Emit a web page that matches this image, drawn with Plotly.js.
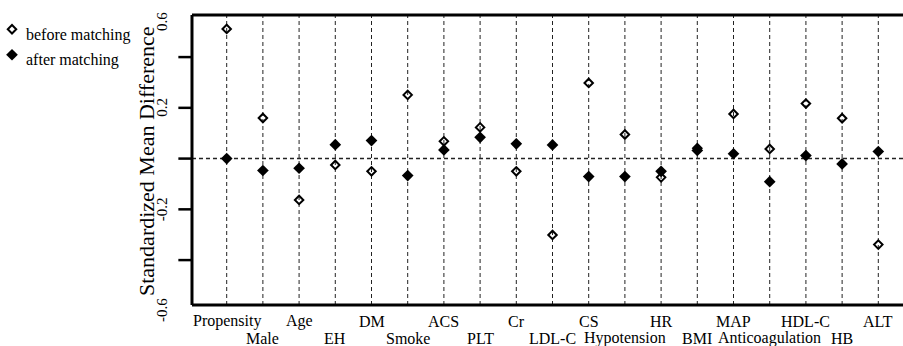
<!DOCTYPE html>
<html>
<head>
<meta charset="utf-8">
<script src="https://cdn.plot.ly/plotly-3.0.1.min.js"></script>
<style>html,body{margin:0;padding:0;background:#fff;}#chart{width:903px;height:346px;}</style>
</head>
<body>
<div id="chart"></div>
<script>
const categories = ['Propensity','Male','Age','EH','DM','Smoke','ACS','PLT','Cr','LDL-C','CS','Hypotension','HR','BMI','MAP','Anticoagulation','HDL-C','HB','ALT'];
const beforeMatching = [0.511,0.160,-0.163,-0.025,-0.050,0.251,0.068,0.123,-0.050,-0.301,0.298,0.095,-0.074,0.041,0.176,0.038,0.217,0.159,-0.339];
const afterMatching = [0.000,-0.047,-0.038,0.055,0.071,-0.067,0.034,0.084,0.058,0.054,-0.071,-0.071,-0.050,0.032,0.019,-0.091,0.012,-0.021,0.028];
const seriesNames = ['before matching','after matching'];
const yTickVals = [-0.4,-0.2,0,0.2,0.4];
const yLabelText = ['0.6','0.2','-0.2','-0.6'];
const yLabelVals = [0.6,0.2,-0.2,-0.6];

const serif = 'Liberation Serif, Times New Roman, serif';
const idx = categories.map((c,i)=>i);

// axis extents: the plot area includes the tick zone left of the frame
const xRange = [-1.345, 18.682];
const yRange = [-0.5888, 0.5777];
const frameX = -0.9586;            // left frame position (x units)
const frameY = [-0.577, 0.566];    // bottom / top frame (y units)

// plot-area geometry helpers (pixels -> paper)
const L = 178, T = 12, W = 725, H = 296;
const px = p => (p - L) / W;
const py = p => 1 - (p - T) / H;

// tick segments as a line trace (null-separated)
const tickX = [], tickY = [];
yTickVals.forEach(v=>{ tickX.push(xRange[0]+0.01, frameX, null); tickY.push(v, v, null); });

const traces = [
  {x: tickX, y: tickY, mode:'lines', type:'scatter', showlegend:false, hoverinfo:'skip', line:{color:'#000', width:2.5}, cliponaxis:false},
  {x: idx, y: beforeMatching, mode:'markers', type:'scatter', name:' ', legendgroup:'a',
   marker:{symbol:'diamond-open', size:6.5, color:'#000', line:{width:2, color:'#000'}}},
  {x: idx, y: afterMatching, mode:'markers', type:'scatter', name:' ', legendgroup:'b',
   marker:{symbol:'diamond', size:9, color:'#000', line:{width:0}}}
];

const annotations = [];
// legend labels
seriesNames.forEach((n,i)=>annotations.push({text:n, xref:'paper', yref:'paper', x:px(24), y:py(35+25*i), xanchor:'left', yanchor:'middle', showarrow:false, font:{size:16, family:serif}}));
// y tick labels
yLabelText.forEach((t,i)=>{
  const v = yLabelVals[i];
  const a = {text:t, xref:'paper', x:px(162), showarrow:false, textangle:-90, font:{size:15, family:serif}, xanchor:'center', yanchor:'middle'};
  if (Math.abs(v) > 0.5) { a.yref = 'paper'; a.y = v > 0 ? py(22) : py(310); } else { a.yref = 'y'; a.y = v; }
  annotations.push(a);
});
// y title
annotations.push({text:'Standardized Mean Difference', xref:'paper', yref:'paper', x:px(146), y:py(161), textangle:-90, showarrow:false, font:{size:22, family:serif}, xanchor:'center', yanchor:'middle'});
// x category labels (two staggered rows)
categories.forEach((c,i)=>annotations.push({text:c, xref:'x', x:i, yref:'paper', y: i%2===0 ? py(321) : py(338), xanchor:'center', yanchor:'middle', showarrow:false, font:{size:16, family:serif}}));

const shapes = [];
// dashed vertical guide per category
idx.forEach(i=>shapes.push({type:'line', xref:'x', x0:i, x1:i, yref:'y', y0:frameY[0], y1:frameY[1], line:{color:'#222', width:1, dash:'4px,3px'}, layer:'below'}));
// dashed reference line at zero
shapes.push({type:'line', xref:'x', x0:frameX, x1:xRange[1], yref:'y', y0:0, y1:0, line:{color:'#222', width:1.5, dash:'4px,3px'}, layer:'below'});
// frame: left, top, bottom
shapes.push({type:'line', xref:'x', x0:frameX, x1:frameX, yref:'y', y0:frameY[0], y1:frameY[1], line:{color:'#000', width:3}});
frameY.forEach(v=>shapes.push({type:'line', xref:'x', x0:frameX, x1:xRange[1], yref:'y', y0:v, y1:v, line:{color:'#000', width:3}}));

const layout = {
  width:903, height:346,
  margin:{l:L, r:0, t:T, b:346-T-H, autoexpand:false},
  paper_bgcolor:'#fff', plot_bgcolor:'#fff',
  font:{family:serif, color:'#000'},
  showlegend:true,
  legend:{x:px(-8), y:py(13), xanchor:'left', yanchor:'top', font:{size:15, family:serif}, tracegroupgap:3, traceorder:'grouped', bgcolor:'rgba(0,0,0,0)'},
  xaxis:{range:xRange, showticklabels:false, ticks:'', showgrid:false, showline:false, zeroline:false},
  yaxis:{range:yRange, showticklabels:false, ticks:'', showgrid:false, showline:false, zeroline:false},
  shapes: shapes,
  annotations: annotations
};
Plotly.newPlot('chart', traces, layout, {displayModeBar:false, staticPlot:true});
</script>
</body>
</html>
